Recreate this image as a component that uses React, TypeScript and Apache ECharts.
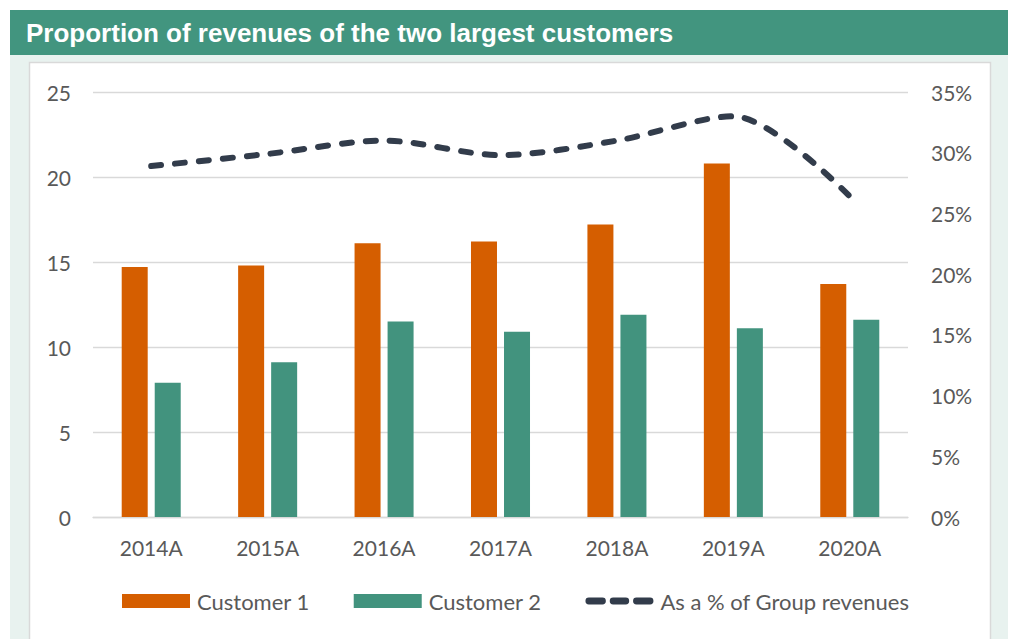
import React, { useEffect, useRef } from "react";
import * as echarts from "echarts";

const categories = ["2014A", "2015A", "2016A", "2017A", "2018A", "2019A", "2020A"];
const customer1 = [14.7, 14.8, 16.1, 16.2, 17.2, 20.8, 13.7];
const customer2 = [7.9, 9.1, 11.5, 10.9, 11.9, 11.1, 11.6];
const groupShare = [28.9, 29.9, 31.0, 29.8, 31.0, 33.0, 26.4];
const leftTicks = { min: 0, max: 25, interval: 5 };
const rightTicks = { min: 0, max: 35, interval: 5 };

const ORANGE = "#D55E00";
const TEAL = "#42937E";
const HEADER = "#42957F";
const LIGHT = "#E8F2EF";
const LINE = "#323C4B";
const TEXT = "#595959";
const FONT = "Lato";

function dash(x0: number, len: number, h: number) {
  const r = h / 2;
  return `M${x0 + r},0 H${x0 + len - r} A${r},${r} 0 0 1 ${x0 + len - r},${h} H${x0 + r} A${r},${r} 0 0 1 ${x0 + r},0 Z`;
}
const dashIcon = "path://" + [dash(0, 21, 7), dash(25, 20, 7), dash(49, 21, 7)].join(" ");

export default function App() {
  const ref = useRef<HTMLDivElement>(null);
  useEffect(() => {
    if (!ref.current) return;
    const chart = echarts.init(ref.current, null, { renderer: "svg" });
    chart.setOption({
      animation: false,
      backgroundColor: "#ffffff",
      graphic: [
        { type: "rect", z: -10, silent: true, shape: { x: 10, y: 55, width: 998, height: 584 }, style: { fill: LIGHT } },
        { type: "rect", z: -9, silent: true, shape: { x: 29.5, y: 62.5, width: 961, height: 580 }, style: { fill: "#ffffff", stroke: "#D9D9D9", lineWidth: 1.5 } },
        { type: "rect", z: -8, silent: true, shape: { x: 10, y: 10, width: 998, height: 45 }, style: { fill: HEADER } },
      ],
      title: {
        text: "Proportion of revenues of the two largest customers",
        left: 21,
        top: 15,
        textStyle: { color: "#ffffff", fontSize: 26, lineHeight: 26, fontWeight: "bold", fontFamily: "Liberation Sans" },
      },
      legend: {
        left: 117,
        top: 585,
        itemWidth: 68,
        itemHeight: 14,
        itemGap: 44,
        textStyle: { color: TEXT, fontSize: 22, fontFamily: FONT, padding: [0, 0, 0, 2] },
        data: [
          { name: "Customer 1", icon: "rect" },
          { name: "Customer 2", icon: "rect" },
          { name: "As a % of Group revenues", icon: dashIcon },
        ],
      },
      grid: { left: 93, right: 104, top: 92, bottom: 122 },
      xAxis: {
        type: "category",
        data: categories,
        axisLine: { lineStyle: { color: "#D9D9D9", width: 1.3 } },
        axisTick: { show: false },
        axisLabel: { color: TEXT, fontSize: 21, fontFamily: FONT, margin: 20 },
      },
      yAxis: [
        {
          type: "value",
          ...leftTicks,
          axisLine: { show: false },
          axisTick: { show: false },
          splitLine: { lineStyle: { color: "#D9D9D9", width: 1.3 } },
          axisLabel: { color: TEXT, fontSize: 21, fontFamily: FONT, margin: 22 },
        },
        {
          type: "value",
          ...rightTicks,
          position: "right",
          axisLine: { show: false },
          axisTick: { show: false },
          splitLine: { show: false },
          axisLabel: { color: TEXT, fontSize: 21, fontFamily: FONT, margin: 23, formatter: "{value}%" },
        },
      ],
      series: [
        {
          name: "Customer 1",
          type: "bar",
          data: customer1,
          barWidth: 26,
          barGap: "27%",
          itemStyle: { color: ORANGE },
        },
        {
          name: "Customer 2",
          type: "bar",
          data: customer2,
          barWidth: 26,
          itemStyle: { color: TEAL },
        },
        {
          name: "As a % of Group revenues",
          type: "line",
          yAxisIndex: 1,
          data: groupShare,
          smooth: 0.3,
          symbol: "none",
          z: 5,
          itemStyle: { color: LINE },
          lineStyle: { color: LINE, width: 6, type: [10, 14], cap: "round" },
        },
      ],
    });
    return () => chart.dispose();
  }, []);
  return <div ref={ref} style={{ position: "absolute", left: 0, top: 0, width: 1012, height: 639 }} />;
}
